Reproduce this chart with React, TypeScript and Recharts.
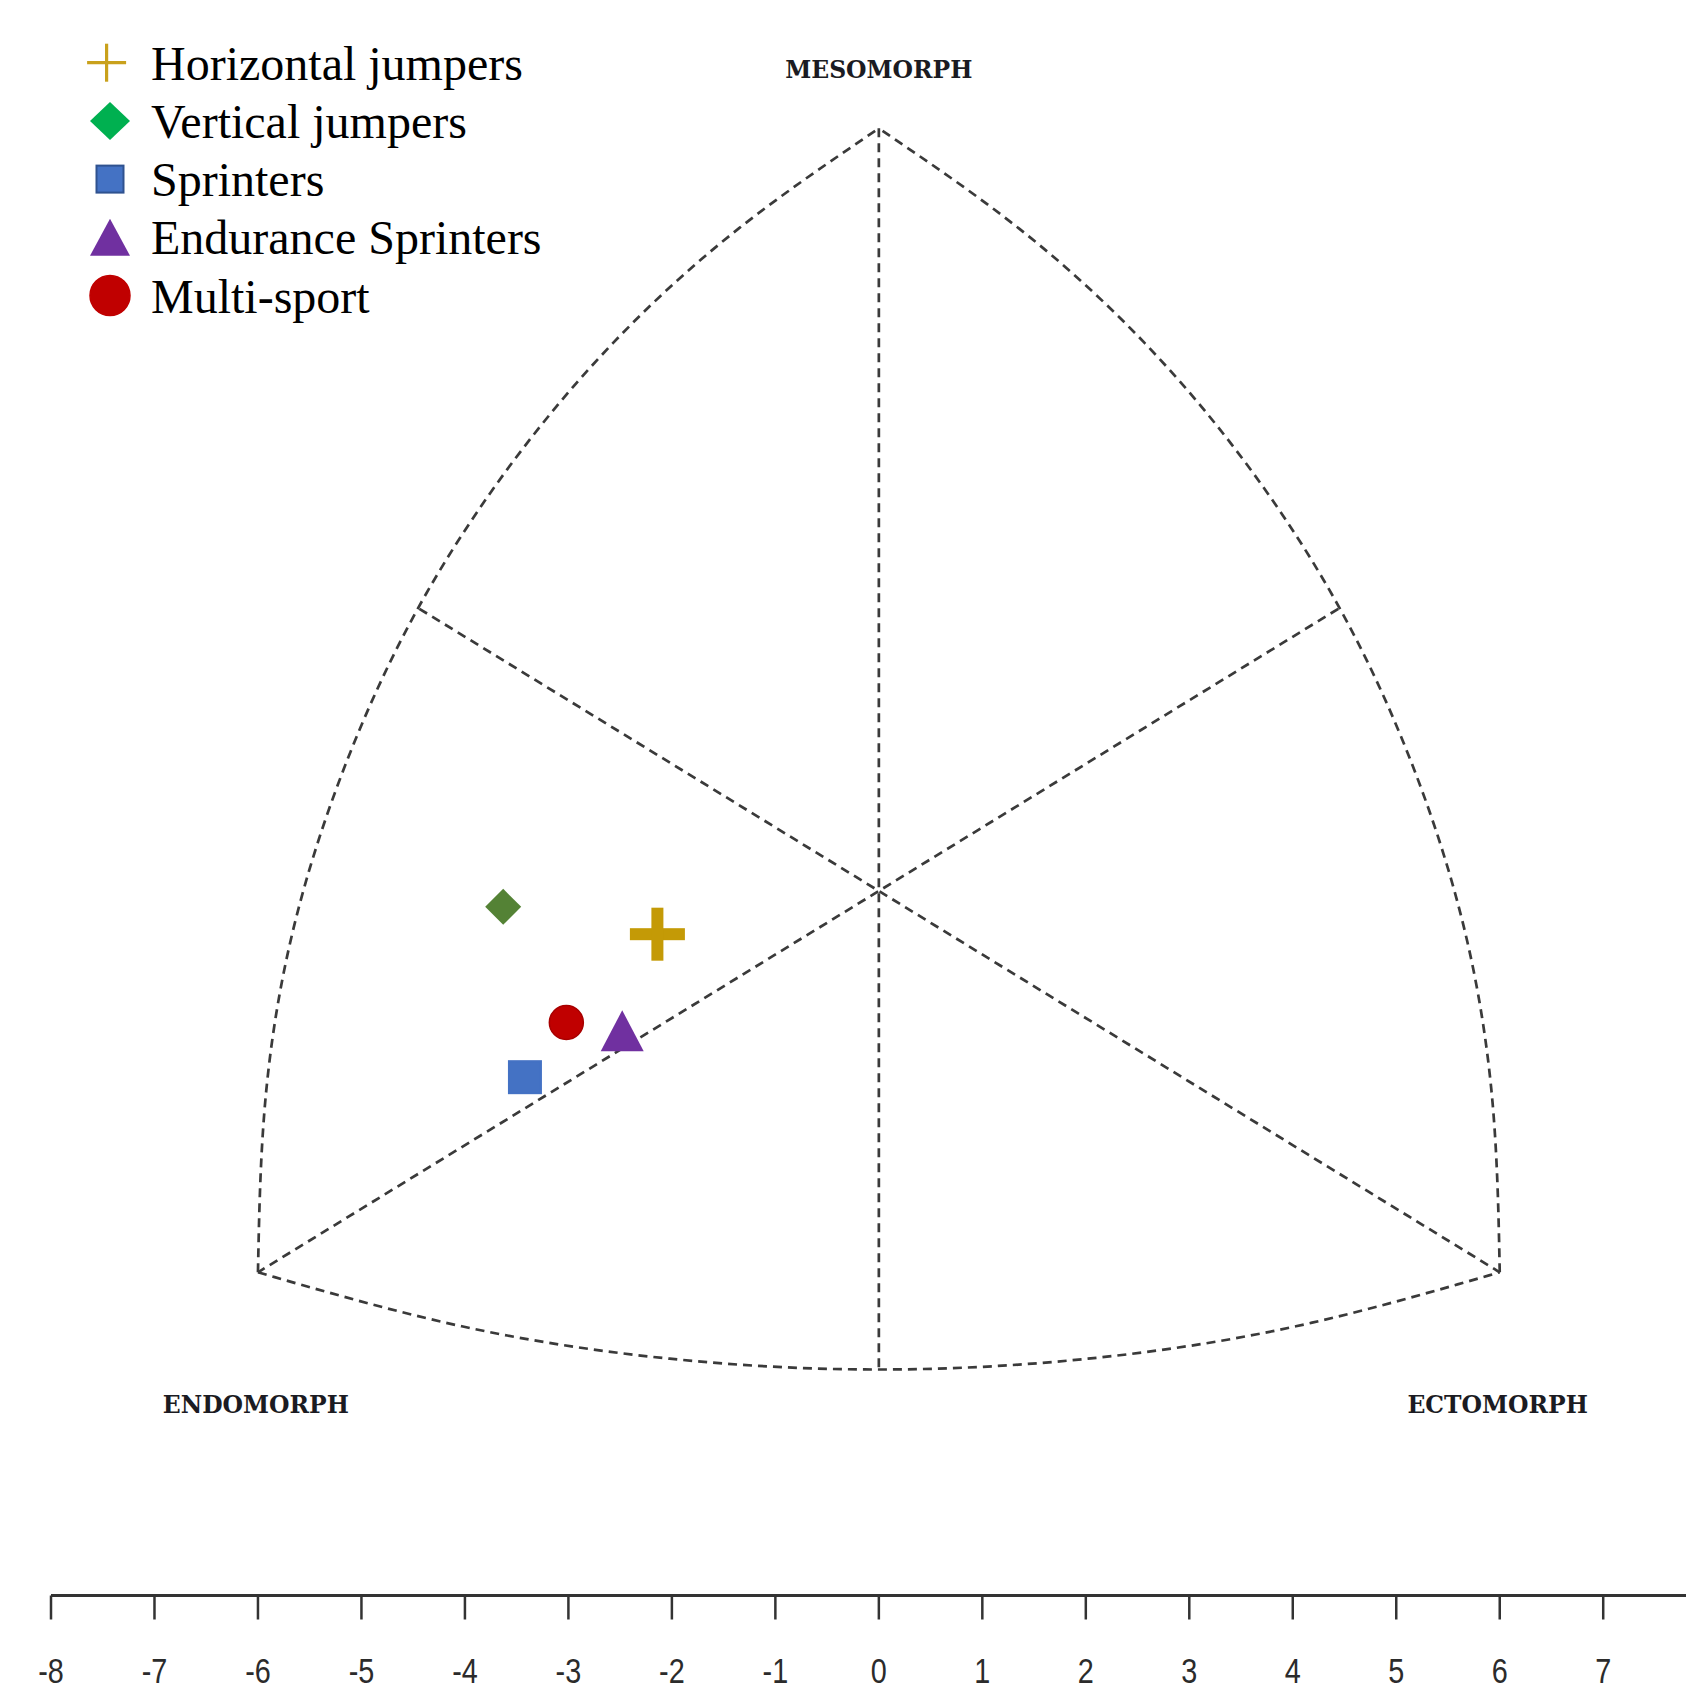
import React from "react";
import { ComposedChart, Line, Scatter, XAxis, YAxis, Legend, ReferenceDot } from "recharts";

// group means on the somatochart: x = ecto - endo, y = 2*meso - (endo + ecto)
const groups = ["Horizontal jumpers", "Vertical jumpers", "Sprinters", "Endurance Sprinters", "Multi-sport"];
const groupX = [-2.14, -3.63, -3.42, -2.48, -3.02];
const groupY = [-0.68, -0.25, -2.93, -2.2, -2.07];
const markers = ["plus", "diamond", "square", "triangle", "circle"];
const plotColors = ["#C49A06", "#548235", "#4472C4", "#7030A0", "#C00000"];
const legendColors = ["#C9A11C", "#00B050", "#4472C4", "#7030A0", "#C00000"];

const xTicks = [-8, -7, -6, -5, -4, -3, -2, -1, 0, 1, 2, 3, 4, 5, 6, 7];

// somatochart outline (data units)
const leftArc = [[-6, -6], [-5.93, -3.32], [-5.67, -0.68], [-5.18, 1.88], [-4.5, 4.31], [-3.62, 6.57], [-2.57, 8.62], [-1.35, 10.43], [0, 12]];
const rightArc = [[6, -6], [5.93, -3.32], [5.67, -0.68], [5.18, 1.88], [4.5, 4.31], [3.62, 6.57], [2.57, 8.62], [1.35, 10.43], [0, 12]];
const bottomArc = [[-6, -6], [-4.03, -6.85], [-2.02, -7.36], [0, -7.53], [2.02, -7.36], [4.03, -6.85], [6, -6]];
const mesoAxis = [[0, 12], [0, -7.53]];
const endoAxis = [[4.44, 4.44], [-6, -6]];
const ectoAxis = [[-4.44, 4.44], [6, -6]];

const cornerLabels = ["MESOMORPH", "ENDOMORPH", "ECTOMORPH"];
const cornerX = [0, -6.02, 5.98];
const cornerY = [12.92, -8.09, -8.09];

const toPoints = (pts: number[][]) => pts.map(([x, y]) => ({ x, y }));

const frame = [
  { key: "left", pts: leftArc, curve: "natural" },
  { key: "right", pts: rightArc, curve: "natural" },
  { key: "bottom", pts: bottomArc, curve: "natural" },
  { key: "meso", pts: mesoAxis, curve: "linear" },
  { key: "endo", pts: endoAxis, curve: "linear" },
  { key: "ecto", pts: ectoAxis, curve: "linear" }
];

const Marker = ({ kind, cx, cy, color, big }: any) => {
  if (kind === "plus") {
    if (big) {
      return (
        <g fill={color}>
          <rect x={cx - 27.5} y={cy - 6} width={55} height={12} />
          <rect x={cx - 6} y={cy - 26.5} width={12} height={53} />
        </g>
      );
    }
    return (
      <g stroke={color} strokeWidth={3.2}>
        <line x1={cx - 19.5} y1={cy} x2={cx + 19.5} y2={cy} />
        <line x1={cx} y1={cy - 19} x2={cx} y2={cy + 19} />
      </g>
    );
  }
  if (kind === "diamond") {
    const w = big ? 18 : 20;
    const h = big ? 18 : 19;
    return <polygon points={`${cx},${cy - h} ${cx + w},${cy} ${cx},${cy + h} ${cx - w},${cy}`} fill={color} />;
  }
  if (kind === "square") {
    const s = big ? 32 : 27;
    return <rect x={cx - s / 2} y={cy - s / 2} width={s} height={s} fill={color} stroke={big ? color : "#2F528F"} strokeWidth={2} />;
  }
  if (kind === "triangle") {
    const b = big ? 21.5 : 20;
    const h = big ? 20.5 : 18.5;
    return <polygon points={`${cx},${cy - h} ${cx + b},${cy + h} ${cx - b},${cy + h}`} fill={color} />;
  }
  return <circle cx={cx} cy={cy} r={big ? 17 : 20} fill={color} stroke={big ? "#A80000" : color} strokeWidth={1.5} />;
};

const LegendBox = () => (
  <svg width={580} height={340} style={{ display: "block" }}>
    {groups.map((name, i) => {
      const base = 79.7 + i * 58.2;
      return (
        <g key={name}>
          <Marker kind={markers[i]} cx={i === 0 ? 106.6 : 110} cy={base - 17} color={legendColors[i]} big={false} />
          <text x={151} y={base} fontFamily="'Liberation Serif', 'Times New Roman', serif" fontSize={48} fill="#000">
            {name}
          </text>
        </g>
      );
    })}
  </svg>
);

const AxisTick = ({ x, y, payload }: any) => (
  <text
    transform={`translate(${x},${y + 61}) scale(0.8,1)`}
    textAnchor="middle"
    fontFamily="'Liberation Sans', Arial, sans-serif"
    fontSize={36}
    fill="#2b2b2b"
  >
    {payload.value}
  </text>
);

export default function App() {
  return (
    <div style={{ position: "absolute", left: 0, top: 0, width: 1686, height: 1689, background: "#fff" }}>
      <ComposedChart width={1686} height={1689} margin={{ top: 0, right: 0, bottom: 0, left: 51 }}>
        <XAxis
          type="number"
          dataKey="x"
          domain={[-8, 7.8]}
          allowDataOverflow
          ticks={xTicks}
          interval={0}
          height={93.5}
          tickSize={24}
          axisLine={{ stroke: "#333", strokeWidth: 3 }}
          tickLine={{ stroke: "#333", strokeWidth: 2.5 }}
          tick={<AxisTick />}
        />
        <YAxis type="number" dataKey="y" domain={[-11.086, 14.02]} allowDataOverflow hide />
        <Legend
          layout="horizontal"
          verticalAlign="middle"
          align="center"
          wrapperStyle={{ left: 0, top: 0, width: 580, height: 340 }}
          content={() => <LegendBox />}
        />
        {frame.map((f) => (
          <Line
            key={f.key}
            data={toPoints(f.pts)}
            dataKey="y"
            type={f.curve as any}
            stroke="#3a3a3a"
            strokeWidth={2.7}
            strokeDasharray="9 6"
            dot={false}
            activeDot={false}
            legendType="none"
            isAnimationActive={false}
          />
        ))}
        {cornerLabels.map((t, i) => (
          <ReferenceDot
            key={t}
            x={cornerX[i]}
            y={cornerY[i]}
            r={0}
            fill="none"
            stroke="none"
            label={{
              value: t,
              position: "center",
              fill: "#1b1b22",
              fontSize: 23.5,
              fontWeight: 700,
              fontFamily: "'DejaVu Serif', serif"
            }}
          />
        ))}
        {groups.map((name, i) => (
          <Scatter
            key={name}
            name={name}
            data={[{ x: groupX[i], y: groupY[i] }]}
            isAnimationActive={false}
            shape={(p: any) => <Marker kind={markers[i]} cx={p.cx} cy={p.cy} color={plotColors[i]} big />}
          />
        ))}
      </ComposedChart>
    </div>
  );
}
